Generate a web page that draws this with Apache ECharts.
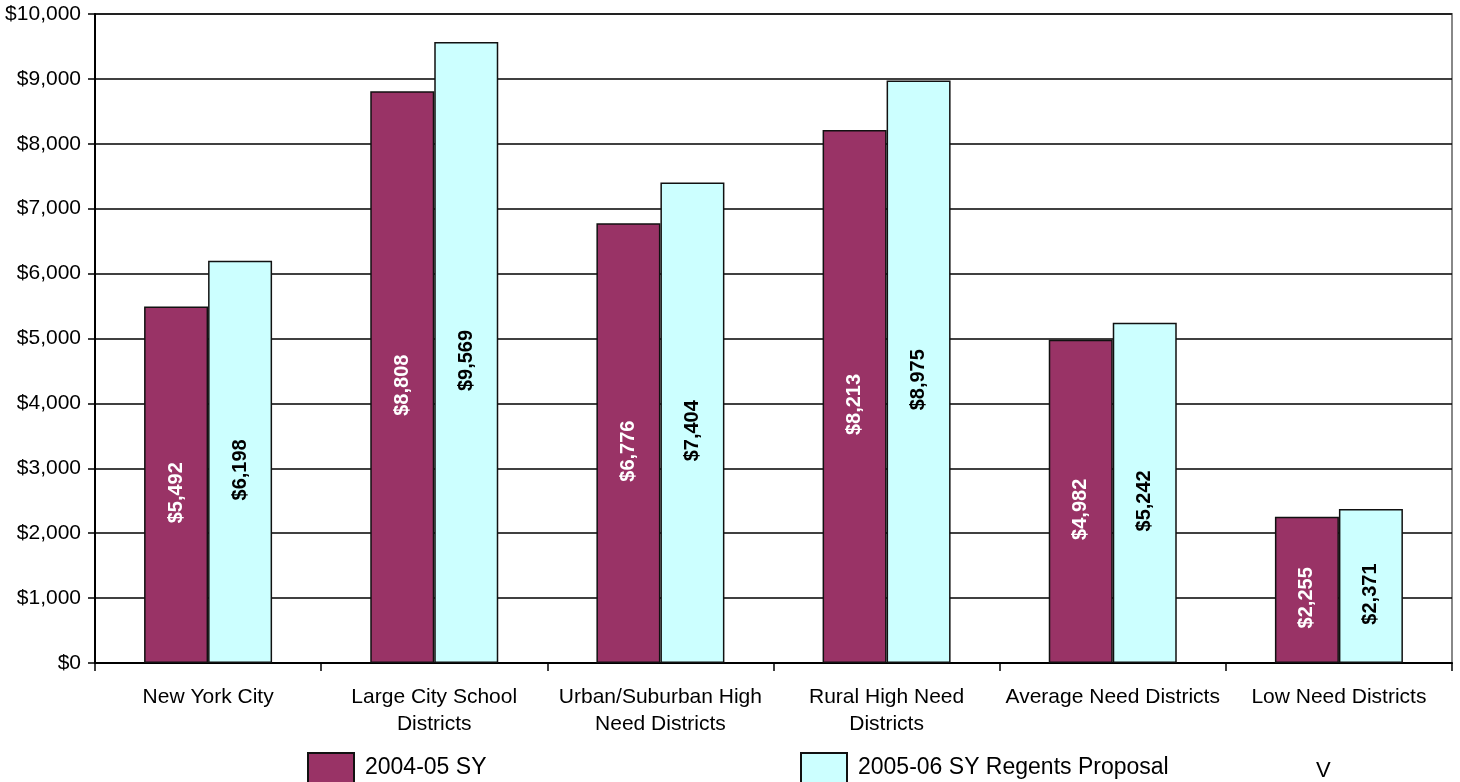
<!DOCTYPE html>
<html><head><meta charset="utf-8">
<script src="https://cdn.jsdelivr.net/npm/echarts@6/dist/echarts.min.js"></script>
<style>html,body{margin:0;padding:0;background:#fff}#c{width:1460px;height:782px}</style>
</head><body><div id="c"></div>
<script>
const categories = ["New York City", "Large City School\nDistricts", "Urban/Suburban High\nNeed Districts", "Rural High Need\nDistricts", "Average Need Districts", "Low Need Districts"];
const series2004 = [5492, 8808, 6776, 8213, 4982, 2255];
const series2005 = [6198, 9569, 7404, 8975, 5242, 2371];
const seriesNames = ["2004-05 SY", "2005-06 SY Regents Proposal"];
const yTicks = [0, 1000, 2000, 3000, 4000, 5000, 6000, 7000, 8000, 9000, 10000];

const FONT = '"Liberation Sans", Arial, sans-serif';
const fmt = v => '$' + v.toLocaleString('en-US');
const chart = echarts.init(document.getElementById('c'));
function lbl(color) {
  return {show: true, position: 'inside', rotate: 90, offset: [-8, 0], color: color, fontFamily: FONT, fontWeight: 'bold', fontSize: 20,
    formatter: p => fmt(p.value)};
}
chart.setOption({
  animation: false,
  backgroundColor: '#fff',
  grid: {left: 95, right: 8, top: 14, bottom: 119, containLabel: false, show: true, borderColor: '#888', borderWidth: 2},
  legend: [
    {data: [seriesNames[0]], left: 302, top: 747, itemWidth: 46, itemHeight: 30, itemGap: 10,
     textStyle: {fontFamily: FONT, fontSize: 23, color: '#000', padding: [8, 0, 0, 6]}, selectedMode: false, icon: 'rect'},
    {data: [seriesNames[1]], left: 795, top: 747, itemWidth: 46, itemHeight: 30, itemGap: 10,
     textStyle: {fontFamily: FONT, fontSize: 23, color: '#000', padding: [8, 0, 0, 6]}, selectedMode: false, icon: 'rect'}
  ],
  xAxis: {type: 'category', data: categories,
    axisLine: {show: true, lineStyle: {color: '#000', width: 2}},
    axisTick: {show: true, alignWithLabel: false, length: 8, lineStyle: {color: '#000', width: 1.5}},
    axisLabel: {fontFamily: FONT, fontSize: 21, color: '#000', margin: 21, lineHeight: 27, interval: 0}
  },
  yAxis: {type: 'value', min: 0, max: 10000, interval: 1000,
    axisLine: {show: true, lineStyle: {color: '#000', width: 2}},
    axisTick: {show: true, length: 7, lineStyle: {color: '#000', width: 1.5}},
    axisLabel: {fontFamily: FONT, fontSize: 21, color: '#000', margin: 14, formatter: v => fmt(v)},
    splitLine: {show: true, lineStyle: {color: '#000', width: 1.5}}
  },
  series: [
    {name: seriesNames[0], type: 'bar', data: series2004, barWidth: 64, barGap: '0%',
     itemStyle: {color: '#993366', borderColor: '#111', borderWidth: 1.5}, label: lbl('#fff')},
    {name: seriesNames[1], type: 'bar', data: series2005, barWidth: 64, barGap: '0%',
     itemStyle: {color: '#CCFFFF', borderColor: '#111', borderWidth: 1.5}, label: lbl('#000')}
  ],
  graphic: [{type: 'text', left: 1316, top: 760, style: {text: 'V', font: '22px ' + FONT, fill: '#000'}}]
});
</script></body></html>
